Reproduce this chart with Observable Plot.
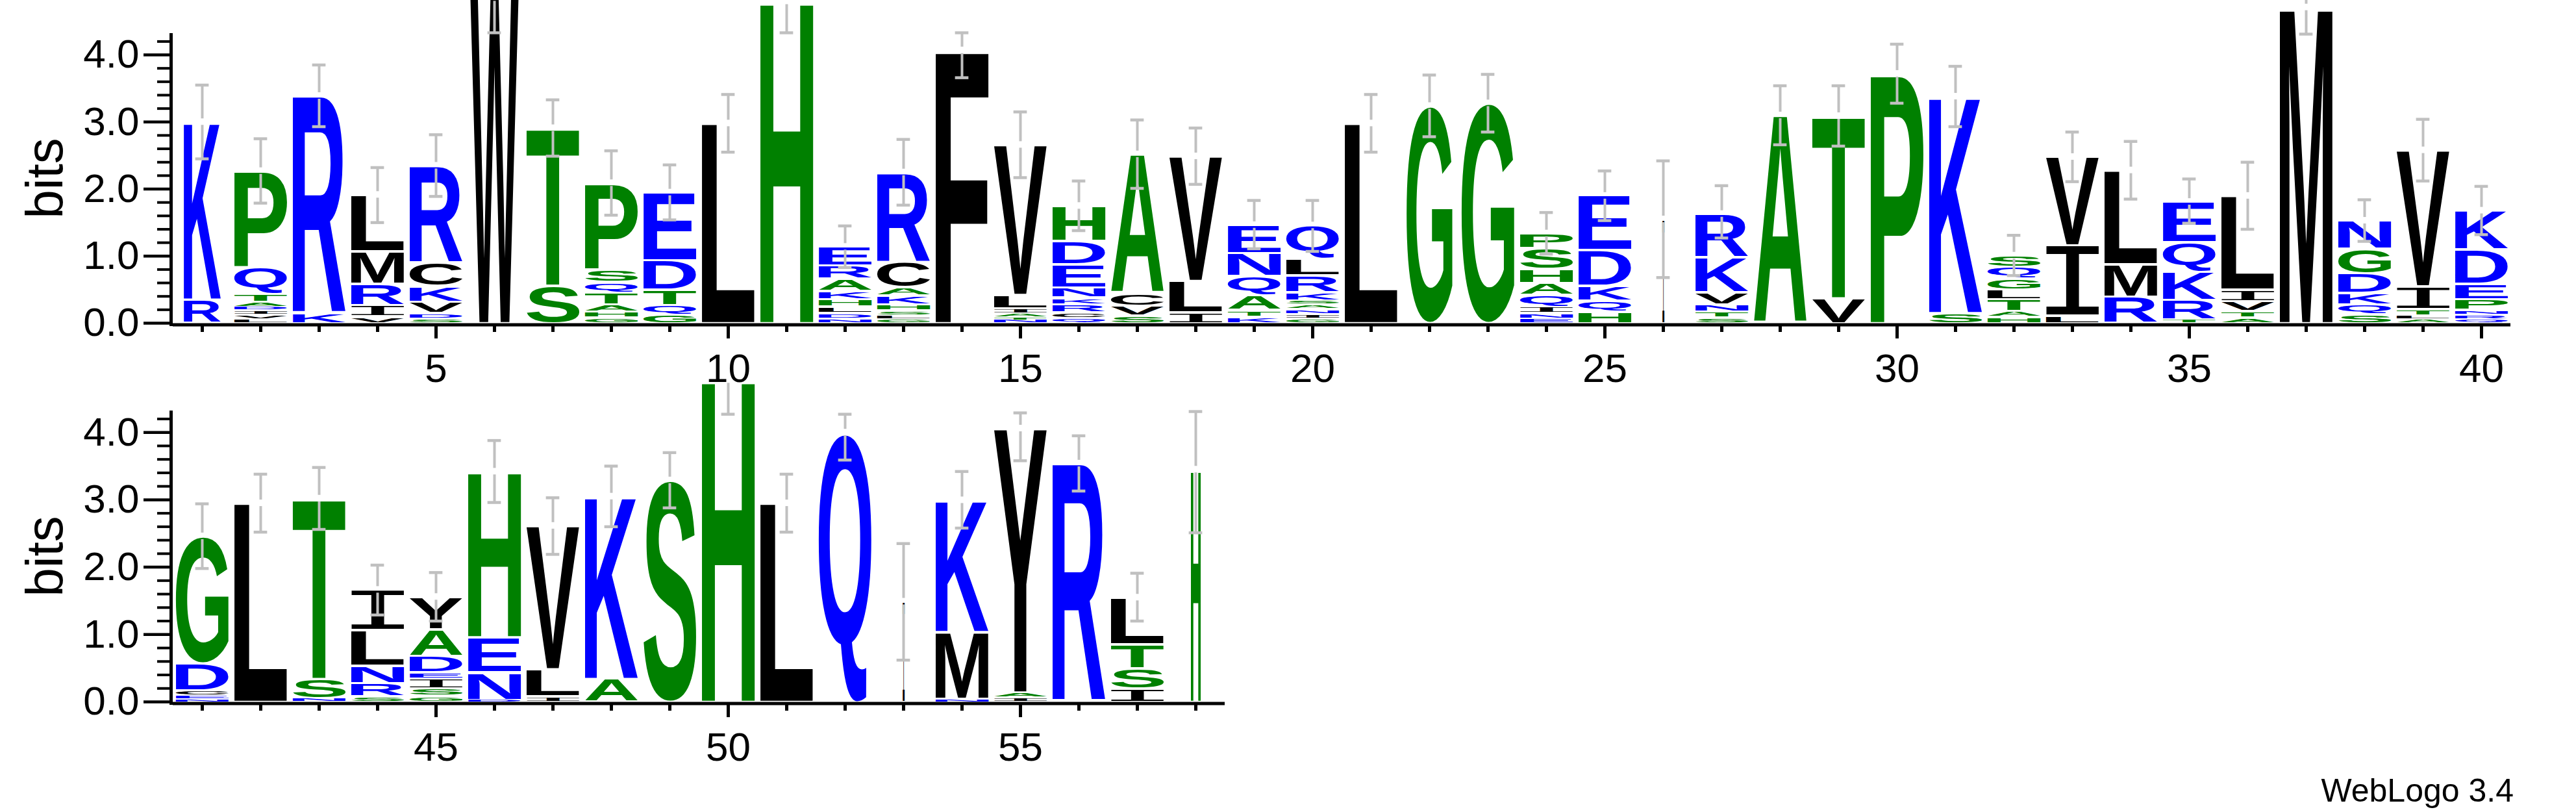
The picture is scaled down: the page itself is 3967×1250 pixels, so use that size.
<!DOCTYPE html>
<html><head><meta charset="utf-8">
<script src="https://cdn.jsdelivr.net/npm/d3@7"></script>
<script src="https://cdn.jsdelivr.net/npm/@observablehq/plot@0.6"></script>
<style>
html,body{margin:0;padding:0;background:#fff;width:3967px;height:1250px;overflow:hidden;position:relative;font-family:"Liberation Sans",Arial,sans-serif}
.row{position:absolute;left:0}
#caption{position:absolute;right:96px;top:1193px;font-size:50px;line-height:49px;color:#000;font-family:"Liberation Sans",Arial,sans-serif}
</style></head><body>
<div id="row1" class="row" style="top:0px"></div>
<div id="row2" class="row" style="top:560px"></div>
<div id="caption">WebLogo 3.4</div>
<script>
// ---- data ----
const positions = d3.range(1, 59);
// letters of each stack, bottom to top
const letters = [
 "RK","LVIDATQP","KR","VIRML","SDVKCR","W","ST","GHATQSP","GQTDE","L",
 "H","NDLHKARE","GLSHKACR","F","NTAILV","QCRKNEDH","SVCA","ILV","KTAQNE","GINASKRLQ",
 "L","G","G","ENIQAHSP","HQKDE","I","STNVKR","A","VT","P",
 "SK","HATLGQS","LIV","RML","TRKQE","ATVIL","M","SQKDGN","ALTIV","QRNPEDK",
 "NECDG","L","NST","SRNLI","GSIEDAY","DNEH","ILV","AK","S","H",
 "L","Q","I","NMK","IAY","R","ISTL","H"
];
// heights in bits, bottom to top
const heights = [
 [0.35,2.65],[0.065,0.06,0.07,0.05,0.075,0.12,0.40,1.43],[0.14,3.25],[0.10,0.17,0.32,0.48,0.845],[0.07,0.08,0.17,0.23,0.35,1.45],
 [4.85],[0.56,2.35],[0.08,0.09,0.11,0.18,0.15,0.19,1.29],[0.13,0.14,0.23,0.44,1.01],[2.98],
 [4.8],[0.07,0.08,0.10,0.11,0.12,0.18,0.20,0.28],[0.06,0.06,0.07,0.09,0.13,0.12,0.38,1.34],[4.07],[0.05,0.04,0.05,0.08,0.20,2.24],
 [0.08,0.08,0.12,0.10,0.15,0.35,0.35,0.52],[0.11,0.15,0.19,2.07],[0.16,0.47,1.86],[0.095,0.10,0.22,0.29,0.34,0.42],[0.07,0.07,0.07,0.07,0.06,0.12,0.25,0.25,0.50],
 [2.98],[3.24],[3.28],[0.07,0.08,0.09,0.18,0.18,0.21,0.31,0.22],[0.17,0.17,0.22,0.53,0.81],
 [1.55],[0.08,0.09,0.11,0.18,0.52,0.65],[3.10],[0.37,2.72],[3.72],
 [0.15,3.23],[0.09,0.09,0.18,0.14,0.16,0.18,0.17],[0.11,1.05,1.32],[0.39,0.49,1.40],[0.05,0.30,0.42,0.44,0.60],
 [0.08,0.10,0.15,0.17,1.40],[4.71],[0.14,0.14,0.17,0.29,0.37,0.42],[0.06,0.05,0.10,0.34,2.03],[0.06,0.07,0.07,0.16,0.23,0.51,0.58],
 [0.04,0.05,0.08,0.40,1.89],[2.95],[0.05,0.29,2.68],[0.085,0.19,0.26,0.53,0.60],[0.09,0.11,0.14,0.10,0.24,0.40,0.48],
 [0.03,0.41,0.52,2.46],[0.085,0.40,2.13],[0.34,2.71],[3.29],[4.78],
 [2.95],[4.00],[1.49],[0.045,0.99,1.96],[0.07,0.07,3.92],
 [3.54],[0.20,0.30,0.36,0.69],[3.45]
];
// stack width relative to a full column (gappy columns are narrower)
const widthFraction = [
 0.70,1,1,1,1,0.91,1,1,1,1, 1,1,1,1,1,1,1,1,1,1, 1,0.87,1,1,1,0.035,1,1,1,1,
 1,1,1,1,1,1,1,1,1,1, 1,1,1,1,1,1,1,1,1,1, 1,1,0.035,1,1,1,1,0.185
];
const errLow = [
 2.45,1.79,2.93,1.50,1.89,4.33,2.49,1.61,1.54,2.55,
 4.33,0.83,1.76,3.66,2.17,1.38,2.01,2.07,1.11,1.07,
 2.55,2.78,2.85,1.03,1.53,0.68,1.27,2.66,2.64,3.28,
 2.93,0.71,2.11,1.85,1.49,1.40,4.31,1.22,2.12,1.32,
 1.98,2.52,2.56,1.29,1.20,2.96,2.19,2.60,2.88,4.27,
 2.52,3.59,0.62,2.58,3.58,3.13,1.20,2.51
];
const errHigh = [
 3.55,2.75,3.85,2.32,2.81,5.40,3.33,2.57,2.36,3.41,
 5.30,1.45,2.74,4.33,3.15,2.12,3.03,2.91,1.83,1.83,
 3.41,3.70,3.71,1.65,2.27,2.42,2.05,3.54,3.54,4.16,
 3.83,1.31,2.85,2.71,2.15,2.40,5.20,1.84,3.04,2.04,
 2.94,3.38,3.48,2.03,1.92,3.88,3.03,3.50,3.70,4.78,
 3.38,4.27,2.35,3.42,4.29,3.95,1.91,4.31
];
const yTicks = [0, 1, 2, 3, 4];
const yTickLabels = ["0.0", "1.0", "2.0", "3.0", "4.0"];
const xTickLabels = [5, 10, 15, 20, 25, 30, 35, 40, 45, 50, 55];
const yMax = 4.32;
const colorGroups = {"#0000ff": "RKDENQ", "#008000": "SGHTAP", "#000000": "YVMCLFIW"};
const colorOf = (c) => Object.keys(colorGroups).find(k => colorGroups[k].includes(c));

// ---- glyph metrics ----
const FONT_MAIN = {family: "'Liberation Sans'", weight: "bold"};
const FONT_I = {family: "'DejaVu Sans Mono'", weight: "normal"};   // serif "I" as in WebLogo
const fontFor = (ch) => ch === "I" ? FONT_I : FONT_MAIN;
const ctx = document.createElement("canvas").getContext("2d");
const metricCache = {};
function metrics(ch) {
  if (!metricCache[ch]) {
    const f = fontFor(ch);
    ctx.font = `${f.weight} 200px ${f.family}`;
    const m = ctx.measureText(ch);
    metricCache[ch] = {L: -m.actualBoundingBoxLeft, R: m.actualBoundingBoxRight, T: -m.actualBoundingBoxAscent, B: m.actualBoundingBoxDescent};
  }
  return metricCache[ch];
}

const PX = 90;            // pixels per position
const COL = 0.905;        // full stack width, in positions
const ML = 266;
const GREY = "#c0c0c0";

function makeRow(first, last, svgWidth, svgHeight, mTop, yBottom) {
  const idx = positions.filter(p => p >= first && p <= last);
  const stacks = [];
  const totals = {};
  idx.forEach(p => {
    let cum = 0;
    const ls = letters[p - 1], hs = heights[p - 1];
    for (let j = 0; j < ls.length; j++) {
      stacks.push({pos: p, letter: ls[j], y0: cum, y1: cum + hs[j], w: COL * widthFraction[p - 1], color: colorOf(ls[j])});
      cum += hs[j];
    }
    totals[p] = cum;
  });
  const x0 = first - 0.5, x1 = last + 0.5;
  const u = 1 / PX;
  const bpp = yMax / (yBottom - mTop);
  const gap = 5 * bpp;
  // error bars are interrupted around the top of each stack
  const errSegs = idx.flatMap(p => [
    {pos: p, a: errLow[p - 1], b: Math.max(errLow[p - 1], totals[p] - gap)},
    {pos: p, a: Math.min(errHigh[p - 1], totals[p] + gap), b: errHigh[p - 1]}
  ]).filter(s => s.b > s.a);
  const caps = idx.flatMap(p => [errLow[p - 1], errHigh[p - 1]].filter(v => v < 4.7).map(v => ({pos: p, v})));
  const major = xTickLabels.filter(v => v >= first && v <= last);
  const minor = idx.filter(p => !major.includes(p));
  const yMinor = d3.range(0, 4.3, 0.2).map(v => +v.toFixed(1)).filter(v => !yTicks.includes(v));
  const black = "#000";
  const chart = Plot.plot({
    width: svgWidth, height: svgHeight,
    marginLeft: ML, marginRight: svgWidth - ML - (x1 - x0) * PX,
    marginTop: mTop, marginBottom: svgHeight - yBottom,
    x: {domain: [x0, x1], axis: null},
    y: {domain: [0, yMax], axis: null},
    color: {type: "identity"},
    style: {background: "transparent", overflow: "visible", fontFamily: "'Liberation Sans', Arial, sans-serif", maxWidth: "none"},
    marks: [
      Plot.text(stacks, {x: "pos", y: "y0", text: "letter", fill: "color", fontSize: 200, fontWeight: "bold"}),
      Plot.ruleX(errSegs, {x: "pos", y1: "a", y2: "b", stroke: GREY, strokeWidth: 4}),
      Plot.ruleY(caps, {y: "v", x1: d => d.pos - 0.115, x2: d => d.pos + 0.115, stroke: GREY, strokeWidth: 4.5}),
      // axes
      Plot.ruleY([0], {x1: x0, x2: x1, dy: 2.5, stroke: black, strokeWidth: 5}),
      Plot.ruleX([x0], {y1: -5 * bpp, y2: yMax, dx: -3, stroke: black, strokeWidth: 5}),
      Plot.ruleY(yTicks, {y: d => d, x1: x0 - 45 * u, x2: x0 - 3 * u, stroke: black, strokeWidth: 4.5}),
      Plot.ruleY(yMinor, {y: d => d, x1: x0 - 24 * u, x2: x0 - 3 * u, stroke: black, strokeWidth: 4}),
      Plot.ruleX(minor, {x: d => d, y1: -5 * bpp, y2: -14 * bpp, stroke: black, strokeWidth: 5}),
      Plot.ruleX(major, {x: d => d, y1: -5 * bpp, y2: -24 * bpp, stroke: black, strokeWidth: 5}),
      Plot.text(major, {x: d => d, y: 0, text: d => String(d), lineAnchor: "top", dy: 46, fontSize: 62, fill: black}),
      Plot.text(yTicks, {x: x0, y: d => d, text: (d, i) => yTickLabels[i], textAnchor: "end", dx: -52, fontSize: 62, fill: black}),
      Plot.text(["bits"], {x: x0, y: yMax / 2, text: d => d, rotate: -90, dx: -196, fontSize: 80, fill: black})
    ]
  });
  // stretch each letter glyph into its stack box, using the plot's own scales
  const sx = chart.scale("x"), sy = chart.scale("y");
  const fx = d3.scaleLinear(sx.domain, sx.range), fy = d3.scaleLinear(sy.domain, sy.range);
  const g = chart.querySelectorAll('g[aria-label="text"]')[0];
  const nodes = g ? Array.from(g.querySelectorAll("text")) : [];
  nodes.forEach((t, i) => {
    const d = stacks[i];
    if (!d) return;
    const m = metrics(d.letter);
    const f = fontFor(d.letter);
    const left = fx(d.pos - d.w / 2), right = fx(d.pos + d.w / 2);
    let bottom = fy(d.y0), top = fy(d.y1);
    const hpx = bottom - top;
    const inset = Math.min(1.8, hpx * 0.2);
    bottom -= inset; top += inset;
    const kx = (right - left) / (m.R - m.L), ky = (bottom - top) / (m.B - m.T);
    t.setAttribute("x", 0); t.setAttribute("y", 0);
    t.removeAttribute("dy");
    t.setAttribute("text-anchor", "start");
    t.setAttribute("font-size", 200);
    t.setAttribute("font-weight", f.weight);
    t.setAttribute("font-family", f.family);
    t.setAttribute("transform", `translate(${left - m.L * kx},${top - m.T * ky}) scale(${kx},${ky})`);
  });
  return chart;
}

document.getElementById("row1").appendChild(makeRow(1, 40, 3967, 640, 51, 497));
document.getElementById("row2").appendChild(makeRow(41, 58, 1990, 690, 72, 520));
</script>
</body></html>
